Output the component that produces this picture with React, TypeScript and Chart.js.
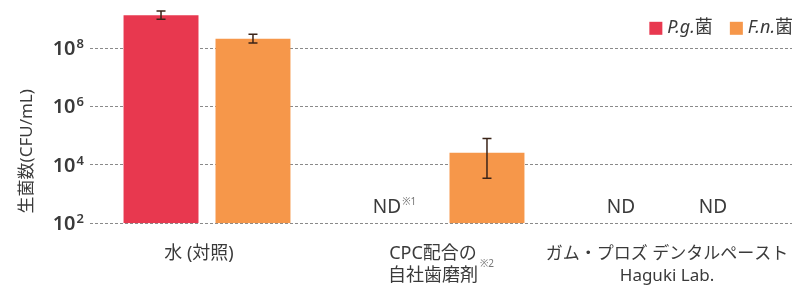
import { useEffect, useRef } from 'react';
import { Chart, registerables } from 'chart.js';
Chart.register(...registerables);

const categories = [['水 (対照)'], ['CPC配合の', '自社歯磨剤'], ['ガム・プロズ デンタルペースト', 'Haguki Lab.']];
const categoryNotes = ['', '※2', ''];
const seriesNames = ['P.g.', 'F.n.'];
const seriesSuffix = '菌';
const pgValues = [1.33e9, null, null];
const pgErrLow = [9.8e8, null, null];
const pgErrHigh = [1.86e9, null, null];
const pgNotes = ['', '※1', ''];
const fnValues = [2.1e8, 2.6e4, null];
const fnErrLow = [1.5e8, 3.5e3, null];
const fnErrHigh = [3.0e8, 8.0e4, null];
const fnNotes = ['', '', ''];
const yTicks = [1e2, 1e4, 1e6, 1e8];
const yTickBase = '10';
const yTickExponents = ['2', '4', '6', '8'];
const yMin = 1e2;
const yMax = 3.16e9;
const yTitle = '生菌数(CFU/mL)';
const ndLabel = 'ND';

const FONT = '"Noto Sans", "Noto Sans CJK JP", sans-serif';
const TEXT = '#3a3a3a';
const PG_COLOR = '#E8384F';
const FN_COLOR = '#F6974A';
const ERR_COLOR = '#3b2418';
const LABEL_OFFSET = -8;
const X_PAD = 12;
const X_SIZE = 18;

export default function App() {
  const ref = useRef<HTMLCanvasElement>(null);
  useEffect(() => {
    document.body.style.margin = '0';
    const canvas = ref.current!;
    const errs = [[pgErrLow, pgErrHigh], [fnErrLow, fnErrHigh]];
    const vals = [pgValues, fnValues];
    const notes = [pgNotes, fnNotes];
    const colors = [PG_COLOR, FN_COLOR];
    const overlay = {
      id: 'overlay',
      afterDatasetsDraw(chart: any) {
        const ctx = chart.ctx;
        const ys = chart.scales.y;
        const xs = chart.scales.x;
        const area = chart.chartArea;
        ctx.save();
        // error bars
        ctx.strokeStyle = ERR_COLOR;
        ctx.lineWidth = 1.5;
        errs.forEach(([lo, hi], di) => {
          const meta = chart.getDatasetMeta(di);
          lo.forEach((l, i) => {
            const h = hi[i];
            if (l == null || h == null) return;
            const px = meta.data[i].x;
            const y1 = ys.getPixelForValue(l);
            const y2 = ys.getPixelForValue(h);
            ctx.beginPath();
            ctx.moveTo(px, y1); ctx.lineTo(px, y2);
            ctx.moveTo(px - 4.5, y1); ctx.lineTo(px + 4.5, y1);
            ctx.moveTo(px - 4.5, y2); ctx.lineTo(px + 4.5, y2);
            ctx.stroke();
          });
        });
        // ND labels
        ctx.fillStyle = TEXT;
        vals.forEach((arr, di) => {
          const meta = chart.getDatasetMeta(di);
          arr.forEach((v, i) => {
            if (v != null) return;
            let px = meta.data[i] ? meta.data[i].x : NaN;
            if (!isFinite(px)) px = xs.getPixelForValue(i) + (di === 0 ? -46 : 46);
            px += LABEL_OFFSET;
            const py = area.bottom - 16;
            ctx.font = `19px ${FONT}`;
            ctx.textAlign = 'center';
            ctx.textBaseline = 'middle';
            ctx.fillText(ndLabel, px, py);
            const note = notes[di][i];
            if (note) {
              const w = ctx.measureText(ndLabel).width;
              ctx.font = `10px ${FONT}`;
              ctx.textAlign = 'left';
              ctx.fillStyle = '#777';
              ctx.fillText(note, px + w / 2 + 1, py - 5);
              ctx.fillStyle = TEXT;
            }
          });
        });
        // category notes
        categoryNotes.forEach((note, i) => {
          if (!note) return;
          const lines = categories[i];
          const cx = xs.getPixelForTick(i) + LABEL_OFFSET;
          ctx.font = `${X_SIZE}px ${FONT}`;
          const w = ctx.measureText(lines[lines.length - 1]).width;
          const lh = X_SIZE * 1.2;
          const ly = xs.top + X_PAD + lh * (lines.length - 0.5);
          ctx.font = `10px ${FONT}`;
          ctx.textAlign = 'left';
          ctx.textBaseline = 'middle';
          ctx.fillStyle = '#777';
          ctx.fillText(note, cx + w / 2 + 2, ly - 4);
        });
        // y tick labels
        ctx.fillStyle = TEXT;
        ctx.textBaseline = 'middle';
        yTicks.forEach((v, i) => {
          const py = ys.getPixelForValue(v);
          ctx.font = `600 13px ${FONT}`;
          const we = ctx.measureText(yTickExponents[i]).width;
          ctx.font = `600 20px ${FONT}`;
          const wb = ctx.measureText(yTickBase).width;
          const rightX = area.left - 6;
          ctx.textAlign = 'left';
          ctx.fillText(yTickBase, rightX - we - wb - 1, py + 1);
          ctx.font = `600 13px ${FONT}`;
          ctx.fillText(yTickExponents[i], rightX - we, py - 4);
        });
        // y title
        ctx.fillStyle = TEXT;
        ctx.font = `17px ${FONT}`;
        ctx.textAlign = 'center';
        ctx.textBaseline = 'middle';
        ctx.translate(27, area.bottom - 72);
        ctx.rotate(-Math.PI / 2);
        ctx.fillText(yTitle, 0, 0);
        ctx.restore();

        // legend (right aligned)
        ctx.save();
        ctx.textBaseline = 'middle';
        ctx.textAlign = 'left';
        const ly = area.top + 24;
        let right = area.right + 1;
        for (let k = seriesNames.length - 1; k >= 0; k--) {
          ctx.font = `italic 18px ${FONT}`;
          const wi = ctx.measureText(seriesNames[k]).width;
          ctx.font = `18px ${FONT}`;
          const ws = ctx.measureText(seriesSuffix).width;
          const textLeft = right - wi - ws;
          const boxLeft = textLeft - 5 - 13;
          ctx.fillStyle = colors[k];
          ctx.fillRect(boxLeft, ly - 6.5, 13, 13);
          ctx.fillStyle = TEXT;
          ctx.font = `italic 18px ${FONT}`;
          ctx.fillText(seriesNames[k], textLeft, ly);
          ctx.font = `18px ${FONT}`;
          ctx.fillText(seriesSuffix, textLeft + wi, ly);
          right = boxLeft - 17;
        }
        ctx.restore();
      },
    };

    const chart = new Chart(canvas, {
      type: 'bar',
      data: {
        labels: categories,
        datasets: [
          { label: seriesNames[0] + seriesSuffix, data: pgValues, backgroundColor: PG_COLOR },
          { label: seriesNames[1] + seriesSuffix, data: fnValues, backgroundColor: FN_COLOR },
        ],
      },
      options: {
        responsive: false,
        animation: false,
        layout: { padding: { top: 4.3, right: 3, left: 0, bottom: 0 } },
        datasets: { bar: { categoryPercentage: 0.786, barPercentage: 0.815 } },
        plugins: { legend: { display: false }, tooltip: { enabled: false } },
        scales: {
          x: {
            grid: { display: false },
            border: { display: false },
            ticks: {
              autoSkip: false,
              maxRotation: 0,
              minRotation: 0,
              padding: X_PAD,
              labelOffset: LABEL_OFFSET,
              color: TEXT,
              font: (c: any) => ({ family: FONT, size: c.index === 2 ? 17 : X_SIZE, lineHeight: c.index === 2 ? X_SIZE * 1.2 / 17 : 1.2 }),
            },
            afterFit: (s: any) => { s.height = 64.7; s.paddingLeft = 0; s.paddingRight = 0; },
          },
          y: {
            type: 'logarithmic',
            min: yMin,
            max: yMax,
            grid: { color: '#8a8a8a', lineWidth: 1, drawTicks: false },
            border: { display: false, dash: [3, 2] },
            afterBuildTicks: (s: any) => { s.ticks = yTicks.map((v) => ({ value: v })); },
            ticks: { display: false },
            afterFit: (s: any) => { s.width = 90; s.paddingTop = 0; s.paddingBottom = 0; },
          },
        },
      },
      plugins: [overlay],
    });
    return () => chart.destroy();
  }, []);
  return <canvas ref={ref} width={795} height={288} style={{ display: 'block', width: 795, height: 288 }} />;
}
